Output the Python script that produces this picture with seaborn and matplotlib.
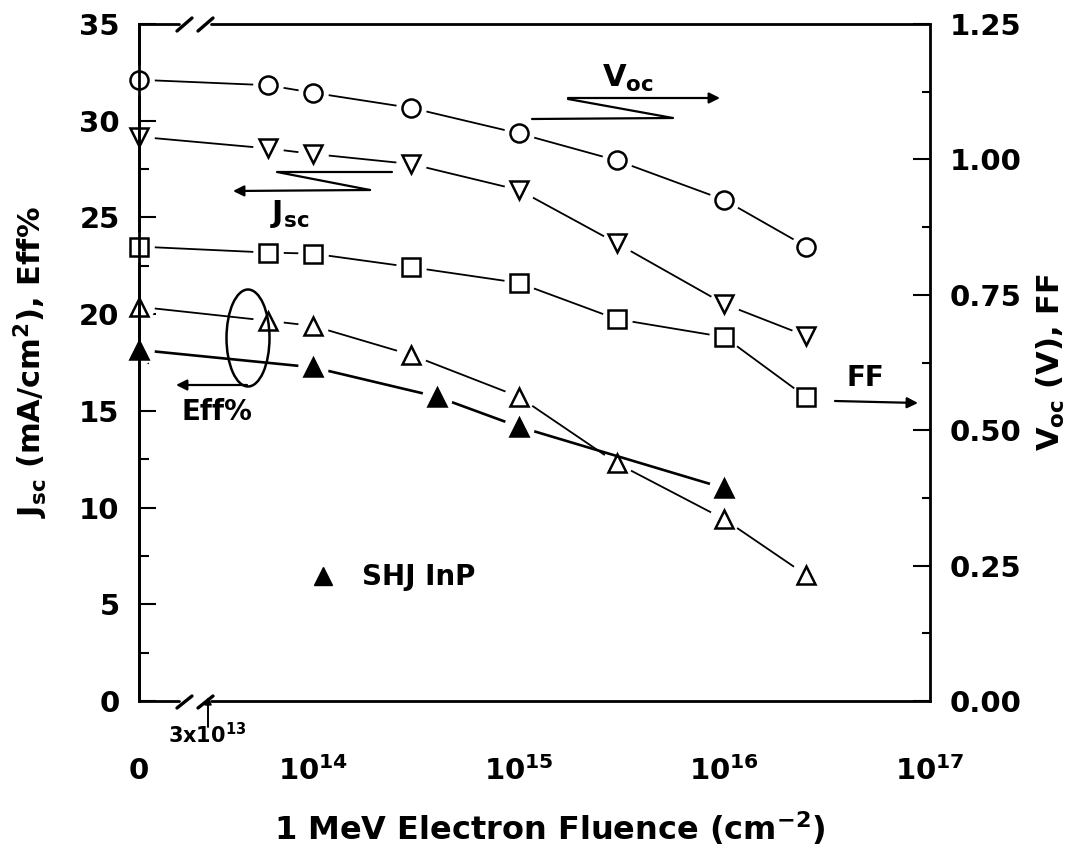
import matplotlib
matplotlib.use("Agg")
import matplotlib.pyplot as plt
import seaborn as sns
import pandas as pd
from matplotlib.patches import Ellipse
from matplotlib.ticker import FixedLocator, NullFormatter, MultipleLocator

# fluence in cm^-2, 0 = unirradiated (sits at the broken left end of the axis)
fluence = [0, 6e13, 1e14, 3e14, 1e15, 3e15, 1e16, 2.5e16]
voc = [1.147, 1.137, 1.123, 1.095, 1.048, 0.998, 0.925, 0.839]   # V, right axis
jsc = [29.17, 28.57, 28.28, 27.76, 26.42, 23.66, 20.52, 18.87]   # mA/cm2, left axis
ff = [0.839, 0.828, 0.826, 0.801, 0.772, 0.705, 0.672, 0.561]    # right axis
eff = [20.38, 19.66, 19.39, 17.89, 15.73, 12.29, 9.39, 6.51]     # %, left axis

shj_fluence = [0, 1e14, 4e14, 1e15, 1e16]
shj_eff = [18.15, 17.25, 15.73, 14.18, 11.0]

x_zero = 10 ** 13.152   # where the "0" fluence is drawn
x_max = 1e17

sns.set_style("white")
plt.rcParams["font.family"] = ["DejaVu Sans"]
plt.rcParams.update({
    "font.weight": "bold",
    "text.color": "black",
    "axes.labelcolor": "black",
    "axes.edgecolor": "black",
    "axes.linewidth": 2.0,
    "mathtext.fontset": "custom",
    "mathtext.rm": "DejaVu Sans:bold",
    "mathtext.it": "DejaVu Sans:bold",
    "mathtext.bf": "DejaVu Sans:bold",
    "mathtext.default": "rm",
    "xtick.color": "black",
    "ytick.color": "black",
})

fig = plt.figure(figsize=(10.92, 8.52), dpi=100)
ax = fig.add_axes([139 / 1092, 151 / 852, 791 / 1092, 677 / 852])
ax.set_xscale("log")
ax2 = ax.twinx()


def frac(px, py):
    # reference pixel -> axes fraction (for the hand drawn annotations)
    return ((px - 139) / 791, (701 - py) / 677)


def draw_series(axis, x, y, marker, filled, lw, z):
    xs = [x_zero if v == 0 else v for v in x]
    df = pd.DataFrame({"fluence": xs, "value": y})
    sns.lineplot(data=df, x="fluence", y="value", ax=axis, color="black", lw=lw,
                 zorder=z, estimator=None, sort=False, legend=False)
    # white halo so the line stops short of each symbol
    axis.plot(xs, y, ls="none", marker="o", ms=21, mfc="white", mec="white",
              zorder=z + 0.1, clip_on=False)
    axis.plot(xs, y, ls="none", marker=marker, ms=13, mfc="black" if filled else "none",
              mec="black", mew=1.8, zorder=z + 0.2, clip_on=False)


draw_series(ax, fluence, jsc, "v", False, 1.3, 3)
draw_series(ax, fluence, eff, "^", False, 1.3, 4)
draw_series(ax, shj_fluence, shj_eff, "^", True, 1.9, 5)
draw_series(ax2, fluence, voc, "o", False, 1.3, 3)
draw_series(ax2, fluence, ff, "s", False, 1.3, 4)

ax.set_xlim(x_zero, x_max)
ax.set_ylim(0, 35)
ax2.set_ylim(0, 1.25)

ax.set_xticks([x_zero, 1e14, 1e15, 1e16, 1e17])
ax.set_xticklabels(["0", "$10^{14}$", "$10^{15}$", "$10^{16}$", "$10^{17}$"])
minors = [m * 10 ** e for e in (13, 14, 15, 16) for m in range(2, 10) if m * 10 ** e >= 4e13]
ax.xaxis.set_minor_locator(FixedLocator(minors))
ax.xaxis.set_minor_formatter(NullFormatter())

ax.set_yticks(range(0, 36, 5))
ax.yaxis.set_minor_locator(MultipleLocator(2.5))
ax2.set_yticks([0, 0.25, 0.5, 0.75, 1.0, 1.25])
ax2.set_yticklabels(["0.00", "0.25", "0.50", "0.75", "1.00", "1.25"])
ax2.yaxis.set_minor_locator(MultipleLocator(0.125))

ax.tick_params(axis="x", which="major", direction="in", length=9, width=1.5,
               labelsize=21, pad=40, top=False)
ax.tick_params(axis="x", which="minor", direction="in", length=4, width=1.5, top=False)
ax.tick_params(axis="y", which="major", direction="in", length=12, width=1.5,
               labelsize=21, pad=14, right=False)
ax.tick_params(axis="y", which="minor", direction="in", length=7, width=1.5, right=False)
ax2.tick_params(axis="y", which="major", direction="in", length=12, width=1.5,
                labelsize=21, pad=14)
ax2.tick_params(axis="y", which="minor", direction="in", length=6, width=1.5)

for a in (ax, ax2):
    a.spines["top"].set_visible(False)
    a.spines["bottom"].set_visible(False)
    for s in a.spines.values():
        s.set_zorder(10)
        s.set_linewidth(2.0)
ax.spines["right"].set_visible(False)
ax2.spines["left"].set_visible(True)

# broken bottom and top frame
for yy, (sy0, sy1) in ((0.0, (708, 696)), (1.0, (31, 18))):
    ax2.plot([0, frac(179, 0)[0]], [yy, yy], color="black", lw=2.0,
             transform=ax2.transAxes, clip_on=False, zorder=10)
    ax2.plot([frac(211, 0)[0], 1], [yy, yy], color="black", lw=2.0,
             transform=ax2.transAxes, clip_on=False, zorder=10)
    for x0, x1 in ((177, 192), (198, 213)):
        p0 = frac(x0, sy0)
        p1 = frac(x1, sy1)
        ax2.plot([p0[0], p1[0]], [p0[1], p1[1]], color="black", lw=2.4,
                 transform=ax2.transAxes, clip_on=False, zorder=10)

ax.set_xlabel("1 MeV Electron Fluence (cm$^{-2}$)", fontsize=23, fontweight="bold")
ax.xaxis.set_label_coords(0.519, -0.160)
ax.set_ylabel("$\\mathrm{J}_{\\mathrm{sc}}$ (mA/cm$^{2}$), Eff%", fontsize=22, fontweight="bold")
ax.yaxis.set_label_coords(-0.112, 0.5)
ax2.set_ylabel("$\\mathrm{V}_{\\mathrm{oc}}$ (V), FF", fontsize=22, fontweight="bold")
ax2.yaxis.set_label_coords(1.132, 0.5)

arrow = dict(arrowstyle="-|>", color="black", lw=1.6, mutation_scale=16,
             shrinkA=0, shrinkB=0)
tr = ax2.transAxes

# V_oc zigzag arrow
pts = [frac(532, 119), frac(673, 118), frac(568, 99)]
ax2.plot([p[0] for p in pts], [p[1] for p in pts], color="black", lw=1.6, transform=tr, zorder=12)
ax2.annotate("", xy=frac(720, 98), xytext=frac(568, 98), xycoords=tr, textcoords=tr,
             arrowprops=arrow, zorder=12)
ax2.text(*frac(628, 78), "$\\mathrm{V}_{\\mathrm{oc}}$", transform=tr, fontsize=22,
         ha="center", va="center", zorder=12)

# J_sc zigzag arrow
pts = [frac(392, 172), frac(277, 172), frac(370, 190)]
ax2.plot([p[0] for p in pts], [p[1] for p in pts], color="black", lw=1.6, transform=tr, zorder=12)
ax2.annotate("", xy=frac(233, 191), xytext=frac(370, 190), xycoords=tr, textcoords=tr,
             arrowprops=arrow, zorder=12)
ax2.text(*frac(290, 214), "$\\mathrm{J}_{\\mathrm{sc}}$", transform=tr, fontsize=22,
         ha="center", va="center", zorder=12)

# Eff% ellipse + arrow
c = frac(248, 338)
ax2.add_patch(Ellipse(c, 43 / 791, 97 / 677, transform=tr, fill=False, ec="black",
                      lw=1.8, zorder=12))
ax2.annotate("", xy=frac(176, 385), xytext=frac(247, 385), xycoords=tr, textcoords=tr,
             arrowprops=arrow, zorder=12)
ax2.text(*frac(217, 412), "Eff%", transform=tr, fontsize=20, ha="center", va="center", zorder=12)

# FF arrow
ax2.annotate("", xy=frac(918, 403), xytext=frac(835, 401), xycoords=tr, textcoords=tr,
             arrowprops=arrow, zorder=12)
ax2.text(*frac(865, 378), "FF", transform=tr, fontsize=20, ha="center", va="center", zorder=12)

# 3x10^13 marker below the break
ax2.annotate("", xy=frac(208, 697), xytext=frac(208, 727), xycoords=tr, textcoords=tr,
             arrowprops=dict(arrowstyle="-|>", color="black", lw=1.4, mutation_scale=10,
                             shrinkA=0, shrinkB=0), annotation_clip=False, zorder=12)
ax2.text(*frac(207, 722), "3x10$^{13}$", transform=tr, fontsize=15, ha="center", va="top",
         zorder=12, clip_on=False)

# key for the solid symbols
ax2.plot(*frac(323, 576), marker="^", ms=13, color="black", ls="none", transform=tr, zorder=12)
ax2.text(*frac(362, 577), "SHJ InP", transform=tr, fontsize=20, ha="left", va="center", zorder=12)

fig.savefig("out.png", dpi=100)
